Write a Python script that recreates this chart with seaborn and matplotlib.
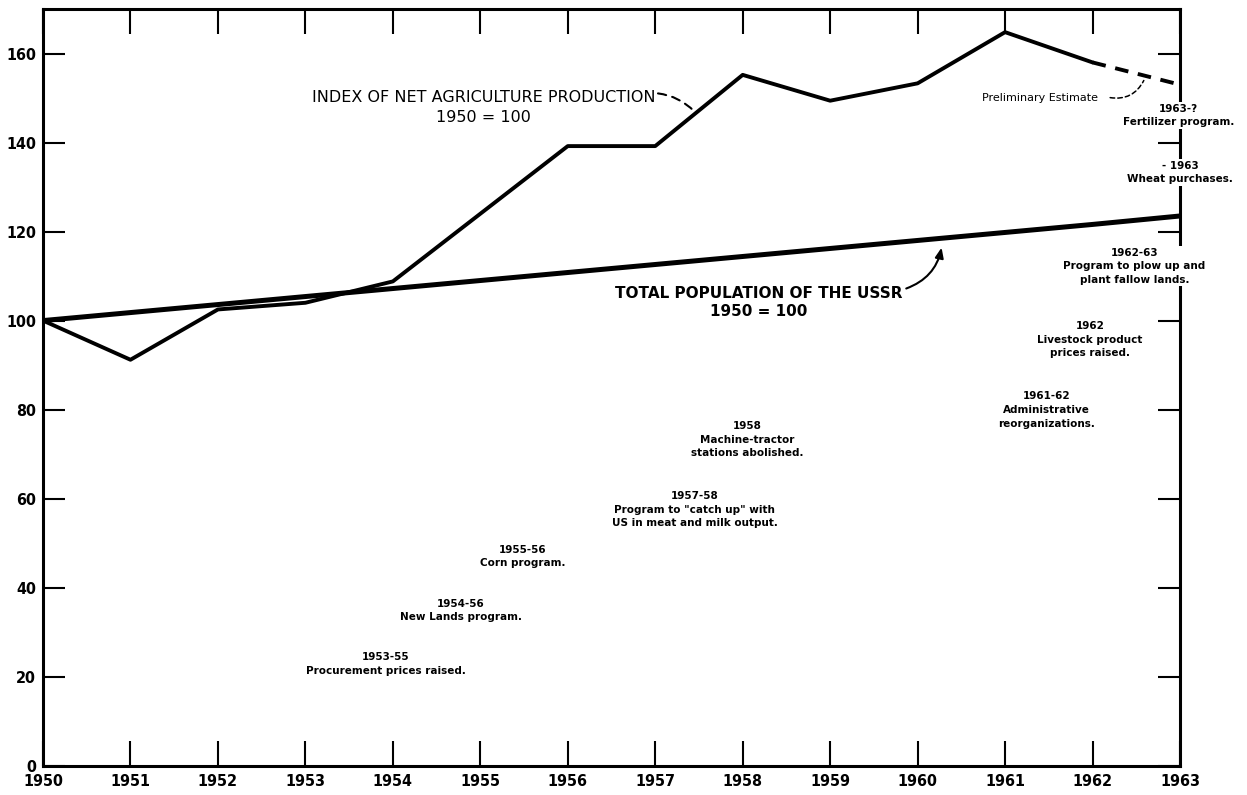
import numpy as np
import pandas as pd
import matplotlib
matplotlib.use("Agg")
import matplotlib.pyplot as plt
import seaborn as sns

############################################################
##### Data
############################################################

years = list(range(1950, 1964))
agri_index = [100, 91.2, 102.5, 104, 108.8, 124, 139.2, 139.2, 155.2, 149.4, 153.3, 164.8, 158, 153]
population_index = [100, 101.8, 103.6, 105.4, 107.2, 109.0, 110.8, 112.6, 114.4, 116.2, 118.0, 119.8, 121.6, 123.5]
y_ticks = [0, 20, 40, 60, 80, 100, 120, 140, 160]

agri_label = ["INDEX OF NET AGRICULTURE PRODUCTION", "1950 = 100"]
pop_label = ["TOTAL POPULATION OF THE USSR", "1950 = 100"]
estimate_label = "Preliminary Estimate"

note_labels = [
    ["1953-55", "Procurement prices raised."],
    ["1954-56", "New Lands program."],
    ["1955-56", "Corn program."],
    ["1957-58", 'Program to "catch up" with', "US in meat and milk output."],
    ["1958", "Machine-tractor", "stations abolished."],
    ["1961-62", "Administrative", "reorganizations."],
    ["1962", "Livestock product", "prices raised."],
]
# centre of each note block (data units)
note_pos = [
    (1953.92, 22.9),
    (1954.78, 34.9),
    (1955.48, 47.0),
    (1957.45, 57.5),
    (1958.05, 73.2),
    (1961.47, 79.9),
    (1961.97, 95.7),
]

# notes sitting on the right frame (they break the frame line)
side_labels = [
    ["1963-?", "Fertilizer program."],
    ["- 1963", "Wheat purchases."],
    ["1962-63", "Program to plow up and", "plant fallow lands."],
]
side_pos = [
    (1962.98, 146.1),
    (1963.0, 133.3),
    (1962.48, 112.2),
]

############################################################
##### Plot
############################################################

sns.set_style("ticks")
plt.rcParams["font.family"] = ["DejaVu Sans"]
plt.rcParams["text.color"] = "black"
plt.rcParams["xtick.color"] = "black"
plt.rcParams["ytick.color"] = "black"

df = pd.DataFrame({"year": years, "agri": agri_index, "pop": population_index})

fig = plt.figure(figsize=(12.47, 7.95), dpi=100)
ax = fig.add_axes([43 / 1247, 1 - 765.7 / 795, (1180 - 43) / 1247, (765.7 - 9) / 795])

# population line
sns.lineplot(data=df, x="year", y="pop", color="black", linewidth=3.6, ax=ax, zorder=3)
# agriculture line, last year dashed (preliminary estimate)
sns.lineplot(data=df[df["year"] <= 1962], x="year", y="agri", color="black", linewidth=2.8, ax=ax, zorder=3)
sns.lineplot(
    data=df[df["year"] >= 1962], x="year", y="agri", color="black", linewidth=2.8,
    linestyle=(0, (3.5, 2.5)), ax=ax, zorder=3,
)

ax.set_xlim(1950, 1963)
ax.set_ylim(0, 170)
ax.set_xlabel("")
ax.set_ylabel("")

for side in ["left", "right", "top", "bottom"]:
    ax.spines[side].set_visible(True)
    ax.spines[side].set_linewidth(2.2)
    ax.spines[side].set_color("black")

ax.set_xticks(years)
ax.set_yticks(y_ticks)
ax.tick_params(axis="x", direction="in", length=18, width=1.5, top=True, bottom=True, pad=6)
ax.tick_params(axis="y", direction="in", length=16, width=1.5, left=True, right=True, pad=5)
for lab in ax.get_xticklabels() + ax.get_yticklabels():
    lab.set_fontstretch("condensed")
    lab.set_fontweight("bold")
    lab.set_fontsize(11.5)
    lab.set_color("black")

# main series labels
ax.text(1955.04, 147.9, "\n".join(agri_label), ha="center", va="center",
        fontsize=11.5, linespacing=1.45)
ax.text(1958.18, 104.1, "\n".join(pop_label), ha="center", va="center",
        fontsize=11, fontweight="bold", linespacing=1.25)

ax.annotate(
    "", xy=(1957.47, 146.5), xytext=(1955.0 + 2.0, 151.1),
    arrowprops=dict(arrowstyle="-", color="black", lw=1.5, linestyle=(0, (4, 3)),
                    connectionstyle="arc3,rad=-0.2"),
)
ax.annotate(
    "", xy=(1960.28, 117.0), xytext=(1959.84, 107.0),
    arrowprops=dict(arrowstyle="-|>,head_length=0.6,head_width=0.25", color="black", lw=1.5,
                    connectionstyle="arc3,rad=0.3"),
)

ax.text(1961.4, 150.0, estimate_label, ha="center", va="center", fontsize=8)
ax.annotate(
    "", xy=(1962.6, 154.5), xytext=(1962.17, 150.2),
    arrowprops=dict(arrowstyle="-", color="black", lw=1.1, linestyle=(0, (3, 2)),
                    connectionstyle="arc3,rad=0.4"),
)

for lines, (x, y) in zip(note_labels, note_pos):
    ax.text(x, y, "\n".join(lines), ha="center", va="center", fontsize=7.5,
            fontweight="bold", linespacing=1.45)

for lines, (x, y) in zip(side_labels, side_pos):
    ax.text(x, y, "\n".join(lines), ha="center", va="center", fontsize=7.5,
            fontweight="bold", linespacing=1.45, zorder=6, clip_on=False,
            bbox=dict(facecolor="white", edgecolor="none", pad=1.0))

fig.savefig("out.png", dpi=100, facecolor="white")
